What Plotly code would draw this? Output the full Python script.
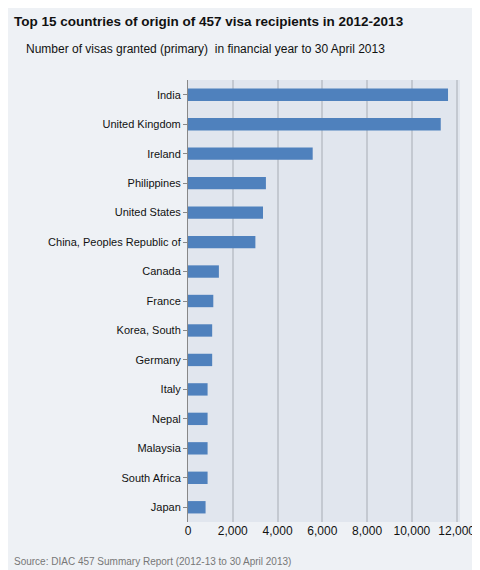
import plotly.graph_objects as go

countries = ["India", "United Kingdom", "Ireland", "Philippines", "United States",
             "China, Peoples Republic of", "Canada", "France", "Korea, South", "Germany",
             "Italy", "Nepal", "Malaysia", "South Africa", "Japan"]
visas = [11615, 11290, 5570, 3480, 3350, 3010, 1380, 1130, 1080, 1080, 875, 875, 875, 875, 785]
tick_vals = [0, 2000, 4000, 6000, 8000, 10000, 12000]
tick_text = ["0", "2,000", "4,000", "6,000", "8,000", "10,000", "12,000"]

L = 180
fig = go.Figure(go.Bar(
    x=visas, y=countries, orientation="h",
    marker=dict(color="#4f81bd", line=dict(width=0)), width=0.42,
))
fig.update_layout(
    width=480, height=570,
    paper_bgcolor="#eef1f5", plot_bgcolor="#e1e6ee",
    margin=dict(l=L, r=28, t=72, b=56),
    font=dict(family="Liberation Sans", size=11, color="#222"),
    showlegend=False,
    annotations=[
        dict(text="<b>Top 15 countries of origin of 457 visa recipients in 2012-2013</b>",
             x=0, y=1, xref="paper", yref="paper", xanchor="left", yanchor="top",
             xshift=-L + 4, yshift=68, showarrow=False, font=dict(size=13.5, color="#111")),
        dict(text="Number of visas granted (primary)  in financial year to 30 April 2013",
             x=0, y=1, xref="paper", yref="paper", xanchor="left", yanchor="top",
             xshift=-L + 16, yshift=40, showarrow=False, font=dict(size=12, color="#111")),
        dict(text="Source: DIAC 457 Summary Report (2012-13 to 30 April 2013)",
             x=0, y=0, xref="paper", yref="paper", xanchor="left", yanchor="top",
             xshift=-L + 4, yshift=-32, showarrow=False, font=dict(size=10, color="#777")),
    ],
)
fig.update_xaxes(range=[0, 12150], tickvals=tick_vals, ticktext=tick_text,
                 showgrid=True, gridcolor="#c4c9d1", gridwidth=2, zeroline=False,
                 tickfont=dict(size=12, color="#111"), fixedrange=True)
fig.update_yaxes(autorange="reversed", showline=True, linecolor="#888",
                 ticks="outside", ticklen=4, tickcolor="#888",
                 tickfont=dict(size=11, color="#111"), fixedrange=True)
fig.write_html("out.html")
